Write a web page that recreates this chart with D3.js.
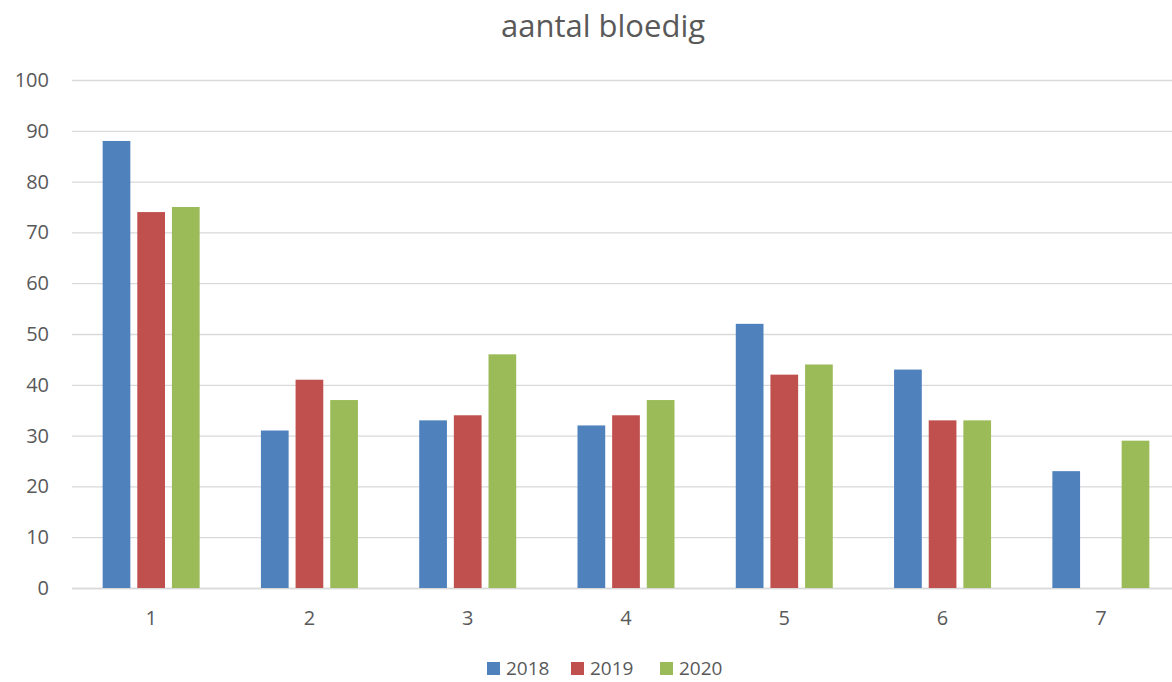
<!DOCTYPE html>
<html><head><meta charset="utf-8">
<script src="https://cdn.jsdelivr.net/npm/d3@7"></script>
<style>body{margin:0;background:#fff;overflow:hidden}text{font-family:"Open Sans","Noto Sans",sans-serif;fill:#595959}</style>
</head><body><svg id="c" width="1172" height="682"></svg>
<script>
const categories = ["1","2","3","4","5","6","7"];
const seriesNames = ["2018","2019","2020"];
const values2018 = [88,31,33,32,52,43,23];
const values2019 = [74,41,34,34,42,33,null];
const values2020 = [75,37,46,37,44,33,29];
const yTicks = [0,10,20,30,40,50,60,70,80,90,100];
const colors = ["#4f81bd","#c0504d","#9bbb59"];
const title = "aantal bloedig";

(function(){
const seriesValues = [values2018, values2019, values2020];
const svg = d3.select("#c");
const pLeft = 72, pRight = 1180, pTop = 80, pBottom = 588;
const y = d3.scaleLinear().domain([0,100]).range([pBottom, pTop]);
const x0 = d3.scaleBand().domain(categories).range([pLeft, pRight]);
const inner = 97;
const x1 = d3.scaleBand().domain(seriesNames)
  .range([(x0.bandwidth()-inner)/2, (x0.bandwidth()+inner)/2]).paddingInner(0.2);

svg.append("text").attr("x", 603).attr("y", 37).attr("text-anchor","middle")
  .style("font-size","31px").text(title);

const yAxis = svg.append("g").attr("transform",`translate(${pLeft},0)`)
  .call(d3.axisLeft(y).tickValues(yTicks).tickSize(-(pRight-pLeft)).tickPadding(23));
yAxis.select(".domain").remove();
yAxis.selectAll(".tick line").attr("stroke","#d9d9d9").attr("stroke-width",1.3);
yAxis.selectAll(".tick text").style("font-size","20px").attr("fill","#595959");

const xAxis = svg.append("g").attr("transform",`translate(0,${pBottom})`)
  .call(d3.axisBottom(x0).tickSize(0).tickPadding(23));
xAxis.select(".domain").attr("stroke","#d9d9d9").attr("stroke-width",1.3);
xAxis.selectAll(".tick text").style("font-size","20px").attr("fill","#595959");

const groups = svg.append("g").selectAll("g").data(categories).join("g")
  .attr("transform", d => `translate(${x0(d)},0)`);
groups.selectAll("rect")
  .data((c,i) => seriesNames.map((s,j) => ({s, j, v: seriesValues[j][i]})).filter(d => d.v != null))
  .join("rect")
  .attr("x", d => x1(d.s)).attr("width", x1.bandwidth())
  .attr("y", d => y(d.v)).attr("height", d => y(0) - y(d.v))
  .attr("fill", d => colors[d.j]);

const legendX = [487, 571, 660];
const lg = svg.append("g");
seriesNames.forEach((s,j) => {
  lg.append("rect").attr("x", legendX[j]).attr("y", 662).attr("width", 13).attr("height", 13).attr("fill", colors[j]);
  lg.append("text").attr("x", legendX[j]+19).attr("y", 675).style("font-size","19px").text(s);
});
})();
</script></body></html>
